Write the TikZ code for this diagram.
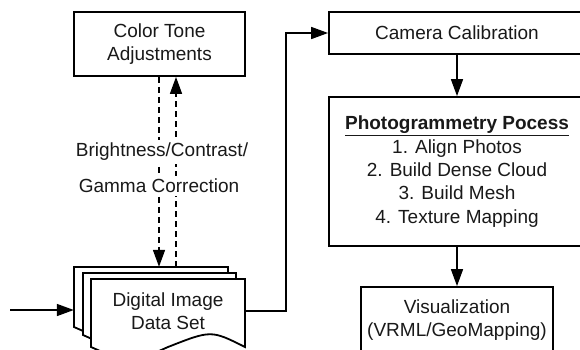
\documentclass[tikz,border=0pt]{standalone}
\usepackage{fontspec}
\setmainfont{Liberation Sans}
\usetikzlibrary{arrows.meta,calc}

\tikzset{
  txt/.style={font=\fontsize{19}{23.4}\selectfont, align=center, text=black!90},
  box/.style={txt, draw=black, line width=1.8pt, fill=white, inner sep=0pt},
  page/.style={draw=black, line width=1.8pt, fill=white},
  arr/.style={line width=1.6pt, -{Triangle[length=17pt,width=12pt]}},
  dasharr/.style={arr, dash pattern=on 6pt off 4pt},
  lbl/.style={txt, fill=white, inner xsep=2pt, inner ysep=3pt},
}

\begin{document}
\begin{tikzpicture}[x=1pt,y=-1pt]
\clip (0,0) rectangle (580,349);
\fill[white] (0,0) rectangle (580,349);

% process boxes
\node[box, minimum width=171pt, minimum height=64pt] (tone) at (159.5,44)
  {Color Tone\\Adjustments};
\node[box, minimum width=256pt, minimum height=42pt] (cam) at (457,33)
  {Camera Calibration};
\node[box, minimum width=256pt, minimum height=149pt] (photo) at (457,171.5)
  {\textbf{\underline{Photogrammetry Pocess}}\\1. Align Photos\\2. Build Dense Cloud\\3. Build Mesh\\4. Texture Mapping};
\node[box, minimum width=192pt, minimum height=66pt] (vis) at (457,320)
  {Visualization\\(VRML/GeoMapping)};

% stacked documents: back, middle, front page with wavy bottom
\foreach \xa/\xb/\ya/\yb in {74/228/267/327, 83/236/273/335, 91/245/279/347}{
  \pgfmathsetmacro{\w}{\xb-\xa}
  \draw[page] (\xa,\ya) -- (\xb,\ya) -- (\xb,\yb)
    .. controls ({\xb-0.22*\w},{\yb-17}) .. ({\xa+0.5*\w},\yb)
    .. controls ({\xa+0.25*\w},{\yb+17}) .. (\xa,\yb) -- cycle;
}
\node[minimum width=154pt, minimum height=61pt, inner sep=0pt] (stack) at (151,297.5) {};
\node[txt, minimum width=154pt, minimum height=64pt, inner sep=0pt] (data) at (168,311)
  {Digital Image\\Data Set};

% connectors
\coordinate (src) at (10,310);
\draw[arr] (src) -- (src -| stack.west);
\draw[arr] (data.east) -- ++(41,0) |- (cam.west);
\draw[arr] (cam) -- (photo);
\draw[arr] (photo) -- (vis);

\coordinate (dn) at ([xshift=-0.5pt]tone.south);
\coordinate (up) at ([xshift=16.5pt]tone.south);
\draw[dasharr] (dn) -- (dn |- stack.north);
\draw[dasharr] (up |- stack.north) -- (up);

\node[lbl] (l1) at (162,152) {Brightness/Contrast/};
\node[lbl] (l2) at (159,186) {Gamma Correction};
\end{tikzpicture}
\end{document}
